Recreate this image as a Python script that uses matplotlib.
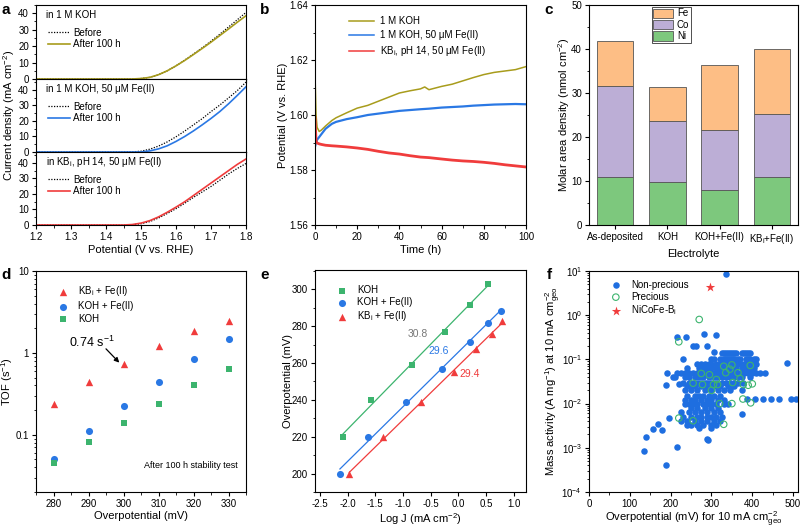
import numpy as np
import matplotlib
matplotlib.use("Agg")
import matplotlib.pyplot as plt
from matplotlib.ticker import AutoMinorLocator, MultipleLocator, LogLocator, NullFormatter
from matplotlib.patches import Patch

plt.rcParams["font.family"] = ["Liberation Sans", "DejaVu Sans"]
plt.rcParams["font.size"] = 7
plt.rcParams["mathtext.fontset"] = "custom"
plt.rcParams["mathtext.rm"] = "Liberation Sans"
plt.rcParams["mathtext.it"] = "Liberation Sans:italic"
plt.rcParams["axes.unicode_minus"] = False
plt.rcParams["axes.linewidth"] = 0.8
plt.rcParams["xtick.major.size"] = 3
plt.rcParams["ytick.major.size"] = 3
plt.rcParams["xtick.minor.size"] = 1.8
plt.rcParams["ytick.minor.size"] = 1.8
plt.rcParams["xtick.major.pad"] = 2
plt.rcParams["ytick.major.pad"] = 2

OLIVE = "#a89c1c"
BLUE = "#2a78e4"
RED = "#f03c3c"
GREEN = "#3cb46e"

# ---------------- data ----------------
# a: polarisation curves, before / after 100 h
pot = [1.2, 1.3, 1.4, 1.45, 1.475, 1.5, 1.525, 1.55, 1.575, 1.6, 1.625, 1.65,
       1.675, 1.7, 1.725, 1.75, 1.775, 1.8]
koh_before = [0, 0, 0, 0, 0, 0.3, 1.0, 2.6, 5.0, 8.0, 11.5, 15.2, 19.0, 23.0, 27.2, 31.6, 36.0, 40.5]
koh_after = [0, 0, 0, 0, 0, 0.3, 1.0, 2.6, 5.0, 8.0, 11.3, 14.9, 18.6, 22.4, 26.4, 30.4, 34.5, 38.5]
fe_before = [0, 0, 0, 0, 0.1, 0.5, 1.8, 3.8, 6.5, 9.8, 13.5, 17.5, 21.5, 26.0, 30.2, 34.8, 39.5, 45.0]
fe_after = [0, 0, 0, 0, 0, 0.05, 0.7, 2.0, 4.0, 6.8, 10.0, 13.6, 17.5, 21.6, 26.0, 31.0, 36.4, 42.0]
kbi_before = [0, 0, 0, 0, 0.2, 0.8, 2.2, 4.5, 7.4, 10.5, 14.0, 17.8, 21.3, 24.8, 28.8, 32.8, 36.4, 39.6]
kbi_after = [0, 0, 0, 0, 0.3, 1.2, 2.8, 5.2, 8.2, 11.5, 15.0, 19.0, 23.0, 27.0, 31.0, 35.0, 39.0, 42.5]

# b: chronopotentiometry
t_h = [0, 0.5, 1, 2, 3, 5, 8, 10, 15, 20, 25, 30, 35, 40, 45, 50, 52, 54, 60, 65, 70, 75, 80, 85, 90, 95, 100]
e_koh = [1.615, 1.600, 1.5955, 1.594, 1.5945, 1.596, 1.598, 1.599, 1.6008, 1.6025, 1.6035, 1.605, 1.6065,
         1.608, 1.6088, 1.6095, 1.6102, 1.6092, 1.6104, 1.6112, 1.6124, 1.6136, 1.6147, 1.6155, 1.616, 1.6165, 1.6176]
e_kohfe = [1.5885, 1.590, 1.591, 1.592, 1.593, 1.595, 1.5968, 1.5975, 1.5985, 1.5992, 1.600, 1.6005, 1.601,
           1.6015, 1.6018, 1.6021, 1.6022, 1.6023, 1.6027, 1.6029, 1.6031, 1.6034, 1.6036, 1.6038, 1.6039, 1.604, 1.6039]
e_kbi = [1.599, 1.5905, 1.5898, 1.5895, 1.5893, 1.589, 1.5888, 1.5887, 1.5884, 1.588, 1.5875, 1.5868, 1.5862,
         1.5858, 1.5852, 1.5847, 1.5846, 1.5845, 1.584, 1.5836, 1.5833, 1.5831, 1.5828, 1.5824, 1.5819, 1.5815, 1.5811]

# c: composition
electrolytes = ["As-deposited", "KOH", "KOH+Fe(II)", "KB$_{\\rm i}$+Fe(II)"]
ni = [11.0, 9.8, 7.9, 10.8]
co = [20.5, 13.8, 13.7, 14.4]
fe = [10.4, 7.7, 14.7, 14.9]

# d: TOF
eta_tof = [280, 290, 300, 310, 320, 330]
tof_kbi = [0.24, 0.44, 0.74, 1.22, 1.85, 2.45]
tof_kohfe = [0.051, 0.11, 0.225, 0.44, 0.84, 1.48]
tof_koh = [0.045, 0.081, 0.14, 0.24, 0.40, 0.63]

# e: Tafel
logj_koh = [-2.09, -1.57, -0.84, -0.25, 0.21, 0.53]
eta_koh = [220, 240, 259, 277, 291.5, 303]
logj_kohfe = [-2.14, -1.64, -0.94, -0.29, 0.20, 0.53, 0.76]
eta_kohfe = [200, 220, 239, 257, 271.5, 281.5, 288.5]
logj_kbi = [-1.97, -1.36, -0.67, -0.08, 0.31, 0.61, 0.78]
eta_kbi = [200, 220, 239, 255, 267.5, 275.5, 283]

# f: literature comparison (overpotential mV, mass activity A/mg)
nonprecious = [
    (335, 8.5), (215, 0.32), (238, 0.32), (255, 0.2), (262, 0.2), (282, 0.38), (290, 0.2), (310, 0.35),
    (305, 0.15), (485, 0.085), (388, 0.0127), (407, 0.0127), (427, 0.0127), (446, 0.0127), (466, 0.0127),
    (495, 0.0127), (507, 0.0127), (376, 0.0058), (135, 0.00086), (140, 0.0018), (158, 0.0026), (168, 0.0035),
    (178, 0.0025), (188, 0.0004), (197, 0.0047), (216, 0.00105), (188, 0.026), (190, 0.048), (288, 0.0016),
    (291, 0.0015), (205, 0.04), (220, 0.028),
    (325, 0.14), (330, 0.14), (335, 0.14), (340, 0.14), (345, 0.14), (350, 0.14), (355, 0.14), (360, 0.14),
    (375, 0.14), (380, 0.14), (385, 0.14), (390, 0.14), (395, 0.14),
    (230, 0.1), (300, 0.1), (305, 0.1), (320, 0.1), (330, 0.1), (335, 0.1), (340, 0.1), (345, 0.1), (350, 0.1),
    (355, 0.1), (365, 0.1), (370, 0.1), (385, 0.1), (390, 0.1), (395, 0.1), (405, 0.1), (410, 0.1),
    (265, 0.08), (275, 0.08), (285, 0.08), (295, 0.08), (300, 0.08), (310, 0.08), (320, 0.08), (325, 0.08),
    (335, 0.08), (340, 0.08), (345, 0.08), (355, 0.08), (360, 0.08), (370, 0.08), (380, 0.08), (390, 0.08),
    (400, 0.08), (410, 0.08),
    (240, 0.065), (270, 0.065), (280, 0.065), (290, 0.065), (300, 0.065), (310, 0.065), (320, 0.065),
    (330, 0.065), (335, 0.065), (345, 0.065), (350, 0.065), (360, 0.065), (375, 0.065), (385, 0.065),
    (395, 0.065), (405, 0.065),
    (215, 0.05), (225, 0.05), (235, 0.05), (245, 0.05), (255, 0.05), (265, 0.05), (270, 0.05), (280, 0.05),
    (285, 0.05), (290, 0.05), (300, 0.05), (305, 0.05), (315, 0.05), (320, 0.05), (330, 0.05), (340, 0.05),
    (350, 0.05), (360, 0.05), (370, 0.05), (380, 0.05), (390, 0.05), (400, 0.05), (410, 0.05), (420, 0.05),
    (430, 0.05),
    (210, 0.04), (235, 0.04), (245, 0.04), (260, 0.04), (270, 0.04), (280, 0.04), (295, 0.04), (305, 0.04),
    (315, 0.04), (325, 0.04), (335, 0.04), (345, 0.04), (355, 0.04), (365, 0.04), (375, 0.04), (395, 0.04),
    (230, 0.03), (245, 0.03), (255, 0.03), (265, 0.03), (275, 0.03), (285, 0.03), (290, 0.03), (300, 0.03),
    (310, 0.03), (325, 0.03), (335, 0.03), (345, 0.03), (355, 0.03), (365, 0.03), (378, 0.03),
    (240, 0.025), (250, 0.025), (260, 0.025), (275, 0.025), (290, 0.025), (300, 0.025), (310, 0.025),
    (320, 0.025), (340, 0.025), (350, 0.025), (355, 0.025),
    (235, 0.02), (250, 0.02), (265, 0.02), (285, 0.02), (300, 0.02), (315, 0.02), (330, 0.02), (345, 0.02),
    (375, 0.02),
    (240, 0.015), (260, 0.015), (270, 0.015), (280, 0.015), (295, 0.015), (305, 0.015), (320, 0.015),
    (235, 0.012), (250, 0.012), (260, 0.012), (275, 0.012), (290, 0.012), (300, 0.012), (315, 0.012),
    (330, 0.012),
    (235, 0.01), (245, 0.01), (255, 0.01), (265, 0.01), (280, 0.01), (290, 0.01), (300, 0.01), (310, 0.01),
    (330, 0.01), (340, 0.01),
    (250, 0.008), (265, 0.008), (285, 0.008), (300, 0.008), (315, 0.008),
    (225, 0.0065), (245, 0.0065), (260, 0.0065), (275, 0.0065), (290, 0.0065), (305, 0.0065), (320, 0.0065),
    (230, 0.005), (250, 0.005), (265, 0.005), (275, 0.005), (290, 0.005), (300, 0.005), (310, 0.005),
    (325, 0.005),
    (225, 0.004), (240, 0.004), (260, 0.004), (275, 0.004), (290, 0.004), (305, 0.004), (320, 0.004),
    (240, 0.0033), (250, 0.0033), (265, 0.0033), (280, 0.0033), (300, 0.0033), (310, 0.0033),
    (270, 0.0028), (300, 0.0028),
]
precious = [
    (220, 0.25), (270, 0.8), (275, 0.048), (278, 0.027), (305, 0.027), (300, 0.02), (312, 0.035),
    (315, 0.027), (330, 0.07), (335, 0.05), (350, 0.075), (352, 0.03), (365, 0.05), (370, 0.037),
    (378, 0.027), (390, 0.026), (395, 0.073), (400, 0.028), (377, 0.0127), (396, 0.0104), (350, 0.01),
    (320, 0.01), (255, 0.029), (220, 0.0047), (255, 0.0041), (330, 0.0034), (295, 0.045), (345, 0.06),
]
this_work = (297, 4.3)

# ---------------- figure ----------------
fig = plt.figure(figsize=(8, 5.28), dpi=100)
W, H = 800.0, 528.0


def box(l, r, t, b):
    return [l / W, 1 - b / H, (r - l) / W, (b - t) / H]


def style(ax):
    ax.tick_params(which="both", direction="out", top=False, right=False, labelsize=7)


# ---- a ----
cases = [("in 1 M KOH", koh_before, koh_after, OLIVE, 45),
         ("in 1 M KOH, 50 \u03bcM Fe(II)", fe_before, fe_after, BLUE, 47),
         ("in KB$_{\\rm i}$, pH 14, 50 \u03bcM Fe(II)", kbi_before, kbi_after, RED, 47)]
edges = [5, 79, 152, 225]
for i, (lab, bef, aft, col, ytop) in enumerate(cases):
    ax = fig.add_axes(box(36, 246, edges[i], edges[i + 1]))
    ax.plot(pot, bef, ls=(0, (1.0, 1.2)), color="k", lw=0.9, label="Before")
    ax.plot(pot, aft, color=col, lw=1.2, label="After 100 h")
    ax.set_xlim(1.2, 1.8)
    ax.set_ylim(0, ytop)
    ax.yaxis.set_major_locator(MultipleLocator(10))
    ax.yaxis.set_minor_locator(AutoMinorLocator(2))
    ax.xaxis.set_major_locator(MultipleLocator(0.1))
    ax.xaxis.set_minor_locator(AutoMinorLocator(2))
    style(ax)
    if i < 2:
        ax.tick_params(axis="x", labelbottom=False)
    else:
        ax.set_xlabel("Potential (V vs. RHE)", fontsize=8, labelpad=2)
    ax.text(0.05, 0.86, lab, transform=ax.transAxes, fontsize=7, va="center")
    ax.legend(loc="upper left", bbox_to_anchor=(0.03, 0.77), frameon=False, fontsize=7,
              handlelength=2.2, handletextpad=0.4, labelspacing=0.15, borderpad=0.1)
fig.text(9 / W, 1 - 115 / H, "Current density (mA cm$^{-2}$)", rotation=90, fontsize=8,
         ha="center", va="center")

# ---- b ----
ax = fig.add_axes(box(315, 526, 5, 225))
ax.plot(t_h, e_koh, color=OLIVE, lw=1.1, label="1 M KOH")
ax.plot(t_h, e_kohfe, color=BLUE, lw=1.6, label="1 M KOH, 50 \u03bcM Fe(II)")
ax.plot(t_h, e_kbi, color=RED, lw=2.0, label="KB$_{\\rm i}$, pH 14, 50 \u03bcM Fe(II)")
ax.set_xlim(0, 100)
ax.set_ylim(1.56, 1.64)
ax.yaxis.set_major_locator(MultipleLocator(0.02))
ax.yaxis.set_minor_locator(AutoMinorLocator(2))
ax.xaxis.set_major_locator(MultipleLocator(20))
ax.xaxis.set_minor_locator(AutoMinorLocator(2))
ax.yaxis.set_major_formatter(plt.FormatStrFormatter("%.2f"))
style(ax)
ax.set_xlabel("Time (h)", fontsize=8, labelpad=2)
ax.set_ylabel("Potential (V vs. RHE)", fontsize=8)
ax.yaxis.set_label_coords(-0.128, 0.5)
leg = ax.legend(loc="upper left", bbox_to_anchor=(0.12, 0.99), frameon=False, fontsize=7,
                handlelength=2.6, handletextpad=0.6, labelspacing=0.42)
for ln in leg.get_lines():
    ln.set_linewidth(1.1)

# ---- c ----
ax = fig.add_axes(box(589, 798, 5, 225))
x = np.arange(len(electrolytes))
bot2 = np.array(ni) + np.array(co)
ax.bar(x, ni, 0.7, color="#7dc87d", edgecolor="#555555", lw=0.6)
ax.bar(x, co, 0.7, bottom=ni, color="#bcaed6", edgecolor="#555555", lw=0.6)
ax.bar(x, fe, 0.7, bottom=bot2, color="#fdbe85", edgecolor="#555555", lw=0.6)
ax.set_xlim(-0.5, 3.5)
ax.set_ylim(0, 50)
ax.set_xticks(x)
ax.set_xticklabels(electrolytes)
ax.yaxis.set_major_locator(MultipleLocator(10))
ax.yaxis.set_minor_locator(AutoMinorLocator(2))
style(ax)
ax.set_xlabel("Electrolyte", fontsize=8)
ax.xaxis.set_label_coords(0.5, -0.11)
ax.set_ylabel("Molar area density (nmol cm$^{-2}$)", fontsize=8)
ax.yaxis.set_label_coords(-0.081, 0.5)
handles = [Patch(facecolor="#fdbe85", edgecolor="#555555", lw=0.6),
           Patch(facecolor="#bcaed6", edgecolor="#555555", lw=0.6),
           Patch(facecolor="#7dc87d", edgecolor="#555555", lw=0.6)]
lg = ax.legend(handles, ["Fe", "Co", "Ni"], loc="upper left", bbox_to_anchor=(0.29, 1.0),
               fontsize=7, fancybox=False, edgecolor="k", handlelength=2.1, handleheight=1.05,
               handletextpad=0.35, labelspacing=0.15, borderpad=0.15, borderaxespad=0.2)
lg.get_frame().set_linewidth(0.6)

# ---- d ----
ax = fig.add_axes(box(36, 246, 271, 492))
ax.scatter(eta_tof, tof_kbi, marker="^", s=28, color=RED, lw=0, label="KB$_{\\rm i}$ + Fe(II)")
ax.scatter(eta_tof, tof_kohfe, marker="o", s=26, color=BLUE, lw=0, label="KOH + Fe(II)")
ax.scatter(eta_tof, tof_koh, marker="s", s=20, color=GREEN, lw=0, label="KOH")
ax.set_yscale("log")
ax.set_xlim(275, 335)
ax.set_ylim(0.02, 10)
ax.yaxis.set_major_formatter(plt.FuncFormatter(lambda v, p: f"{v:g}"))
ax.yaxis.set_minor_locator(LogLocator(subs=np.arange(2, 10)))
ax.yaxis.set_minor_formatter(NullFormatter())
ax.xaxis.set_major_locator(MultipleLocator(10))
ax.xaxis.set_minor_locator(AutoMinorLocator(2))
style(ax)
ax.set_xlabel("Overpotential (mV)", fontsize=8, labelpad=1.5)
ax.set_ylabel("TOF (s$^{-1}$)", fontsize=8)
ax.yaxis.set_label_coords(-0.098, 0.5)
ax.legend(loc="upper left", bbox_to_anchor=(0.04, 0.98), frameon=False, fontsize=7,
          handletextpad=0.6, labelspacing=0.3)
ax.annotate("", xy=(298.8, 0.76), xytext=(295.0, 1.12),
            arrowprops=dict(arrowstyle="-|>", color="k", lw=0.9, mutation_scale=7,
                            shrinkA=0, shrinkB=0))
ax.text(291, 1.33, "0.74 s$^{-1}$", fontsize=9, ha="center", va="center")
ax.text(0.96, 0.12, "After 100 h stability test", transform=ax.transAxes, ha="right",
        va="center", fontsize=6.5)

# ---- e ----
ax = fig.add_axes(box(315, 526, 270, 492))
for lx, ly, col, mk, ms, lab in [(logj_koh, eta_koh, GREEN, "s", 20, "KOH"),
                                 (logj_kohfe, eta_kohfe, BLUE, "o", 26, "KOH + Fe(II)"),
                                 (logj_kbi, eta_kbi, RED, "^", 28, "KB$_{\\rm i}$ + Fe(II)")]:
    k, b0 = np.polyfit(lx, ly, 1)
    xs = np.array([min(lx), max(lx)])
    ax.plot(xs, k * xs + b0, color=col, lw=0.9)
    ax.scatter(lx, ly, marker=mk, s=ms, color=col, lw=0, label=lab, zorder=3)
ax.text(-0.73, 276, "30.8", color="#777777", fontsize=7.5, ha="center", va="center")
ax.text(-0.35, 266.5, "29.6", color=BLUE, fontsize=7.5, ha="center", va="center")
ax.text(0.21, 254.3, "29.4", color=RED, fontsize=7.5, ha="center", va="center")
ax.set_xlim(-2.59, 1.22)
ax.set_ylim(190, 310.5)
ax.xaxis.set_major_locator(MultipleLocator(0.5))
ax.yaxis.set_major_locator(MultipleLocator(20))
ax.yaxis.set_minor_locator(AutoMinorLocator(2))
style(ax)
ax.set_xlabel("Log J (mA cm$^{-2}$)", fontsize=8, labelpad=1.5)
ax.set_ylabel("Overpotential (mV)", fontsize=8)
ax.yaxis.set_label_coords(-0.104, 0.5)
ax.legend(loc="upper left", bbox_to_anchor=(0.04, 0.97), frameon=False, fontsize=7,
          handletextpad=0.6, labelspacing=0.2)

# ---- f ----
ax = fig.add_axes(box(589, 798, 271, 492))
npx, npy = zip(*nonprecious)
prx, pry = zip(*precious)
ax.scatter(npx, npy, s=22, color="#1e6ee0", lw=0, label="Non-precious", zorder=2)
ax.scatter(prx, pry, s=22, facecolor="none", edgecolor=GREEN, lw=0.8, label="Precious", zorder=3)
ax.scatter([this_work[0]], [this_work[1]], marker="*", s=50, color=RED, lw=0,
           label="NiCoFe-B$_{\\rm i}$", zorder=4)
ax.set_yscale("log")
ax.set_xlim(0, 512)
ax.set_ylim(1e-4, 10)
ax.yaxis.set_major_locator(LogLocator(numticks=10))
ax.yaxis.set_minor_locator(LogLocator(subs=np.arange(2, 10), numticks=20))
ax.yaxis.set_minor_formatter(NullFormatter())
ax.xaxis.set_major_locator(MultipleLocator(100))
ax.xaxis.set_minor_locator(AutoMinorLocator(2))
style(ax)
ax.set_xlabel("Overpotential (mV) for 10 mA cm$^{-2}_{\\rm geo}$", fontsize=8, labelpad=0.5)
ax.set_ylabel("Mass activity (A mg$^{-1}$) at 10 mA cm$^{-2}_{\\rm geo}$", fontsize=8)
ax.yaxis.set_label_coords(-0.124, 0.5)
ax.legend(loc="upper left", bbox_to_anchor=(0.04, 1.0), frameon=False, fontsize=7,
          handletextpad=0.6, labelspacing=0.2)

# panel letters
for lt, px, py in [("a", 6, 10), ("b", 265, 10), ("c", 549, 10),
                   ("d", 6, 275), ("e", 265, 275), ("f", 549, 275)]:
    fig.text(px / W, 1 - py / H, lt, fontsize=11, fontweight="bold", ha="center", va="center")

fig.savefig("out.png", dpi=100)
